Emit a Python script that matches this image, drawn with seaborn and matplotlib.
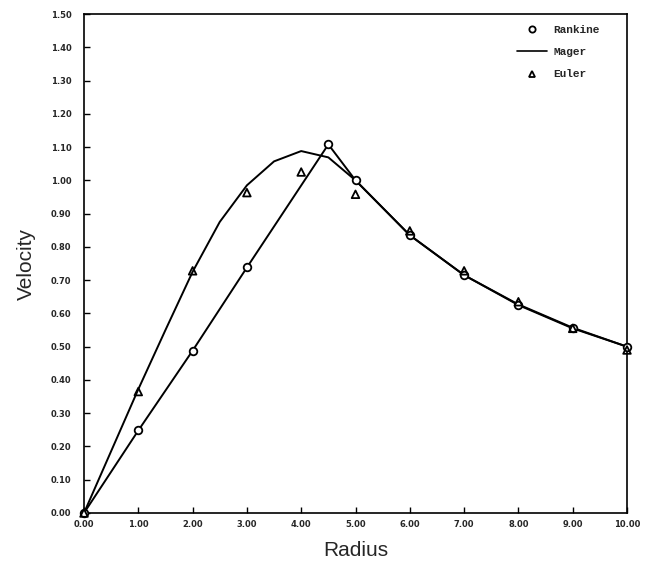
import matplotlib
matplotlib.use("Agg")
import matplotlib.pyplot as plt
from matplotlib.lines import Line2D
from matplotlib.legend_handler import HandlerLine2D
from matplotlib.ticker import FormatStrFormatter, MultipleLocator
import seaborn as sns
import pandas as pd

# ---- data ----
rankine_r = [0, 1, 2, 3, 4.5, 5, 6, 7, 8, 9, 10]
rankine_v = [0, 0.248, 0.488, 0.738, 1.108, 1.0, 0.835, 0.715, 0.625, 0.555, 0.5]

mager_r = [0, 1, 1.5, 2, 2.5, 3, 3.5, 4, 4.5, 5, 6, 7, 8, 9, 10]
mager_v = [0, 0.372, 0.55, 0.725, 0.875, 0.985, 1.057, 1.088, 1.069, 1.0,
           0.835, 0.715, 0.627, 0.557, 0.5]

euler_r = [0, 1, 2, 3, 4, 5, 6, 7, 8, 9, 10]
euler_v = [0, 0.365, 0.728, 0.963, 1.025, 0.958, 0.848, 0.728, 0.635, 0.555, 0.49]

x_ticks = [0, 1, 2, 3, 4, 5, 6, 7, 8, 9, 10]
labels = ["Rankine", "Mager", "Euler"]

sns.set_theme(style="white")
plt.rcParams["font.family"] = ["DejaVu Sans"]

fig = plt.figure(figsize=(6.47, 5.78), dpi=100)
ax = fig.add_axes([84 / 647, 65 / 578, 543 / 647, 499 / 578])

df_r = pd.DataFrame({"r": rankine_r, "v": rankine_v})
df_m = pd.DataFrame({"r": mager_r, "v": mager_v})
df_e = pd.DataFrame({"r": euler_r, "v": euler_v})

sns.lineplot(data=df_r, x="r", y="v", ax=ax, color="black", linewidth=1.4,
             estimator=None, sort=False)
sns.lineplot(data=df_m, x="r", y="v", ax=ax, color="black", linewidth=1.4,
             estimator=None, sort=False)
sns.scatterplot(data=df_r, x="r", y="v", ax=ax, marker="o", s=30,
                facecolor="white", edgecolor="black", linewidth=1.3, zorder=3,
                clip_on=False)
sns.scatterplot(data=df_e, x="r", y="v", ax=ax, marker="^", s=30,
                facecolor="none", edgecolor="black", linewidth=1.3, zorder=4,
                clip_on=False)

ax.set_xlim(0, 10)
ax.set_ylim(0, 1.5)
ax.set_xticks(x_ticks)
ax.yaxis.set_major_locator(MultipleLocator(0.1))
ax.xaxis.set_major_formatter(FormatStrFormatter("%.2f"))
ax.yaxis.set_major_formatter(FormatStrFormatter("%.2f"))
ax.tick_params(axis="both", direction="in", length=4, width=1, color="black",
               labelsize=6, left=True, bottom=True, top=False, right=False)
ax.tick_params(axis="y", pad=9)
ax.tick_params(axis="x", pad=5)
for t in ax.get_xticklabels() + ax.get_yticklabels():
    t.set_fontweight("bold")
for s in ax.spines.values():
    s.set_color("black")
    s.set_linewidth(1.2)

ax.set_xlabel("Radius", fontsize=15, family="Liberation Sans", labelpad=9)
ax.set_ylabel("Velocity", fontsize=15, family="Liberation Sans", labelpad=11)


class RightMarker(HandlerLine2D):
    def get_xdata(self, legend, xdescent, ydescent, width, height, fontsize):
        return [-xdescent, -xdescent + width], [-xdescent + width - 3]


h_r = Line2D([], [], linestyle="none", marker="o", markersize=4.5,
             markerfacecolor="white", markeredgecolor="black", markeredgewidth=1.3)
h_m = Line2D([], [], color="black", linewidth=1.2)
h_e = Line2D([], [], linestyle="none", marker="^", markersize=4.5,
             markerfacecolor="none", markeredgecolor="black", markeredgewidth=1.3)
leg = ax.legend([h_r, h_m, h_e], labels, loc="upper left",
                bbox_to_anchor=((517 - 84) / 543, (513 - 25) / 499),
                frameon=False, borderpad=0, borderaxespad=0,
                handlelength=2.7, handletextpad=0.6, labelspacing=1.1,
                prop={"family": "Liberation Mono", "weight": "bold", "size": 8},
                handler_map={h_r: RightMarker(), h_e: RightMarker()})

fig.savefig("out.png", dpi=100)
